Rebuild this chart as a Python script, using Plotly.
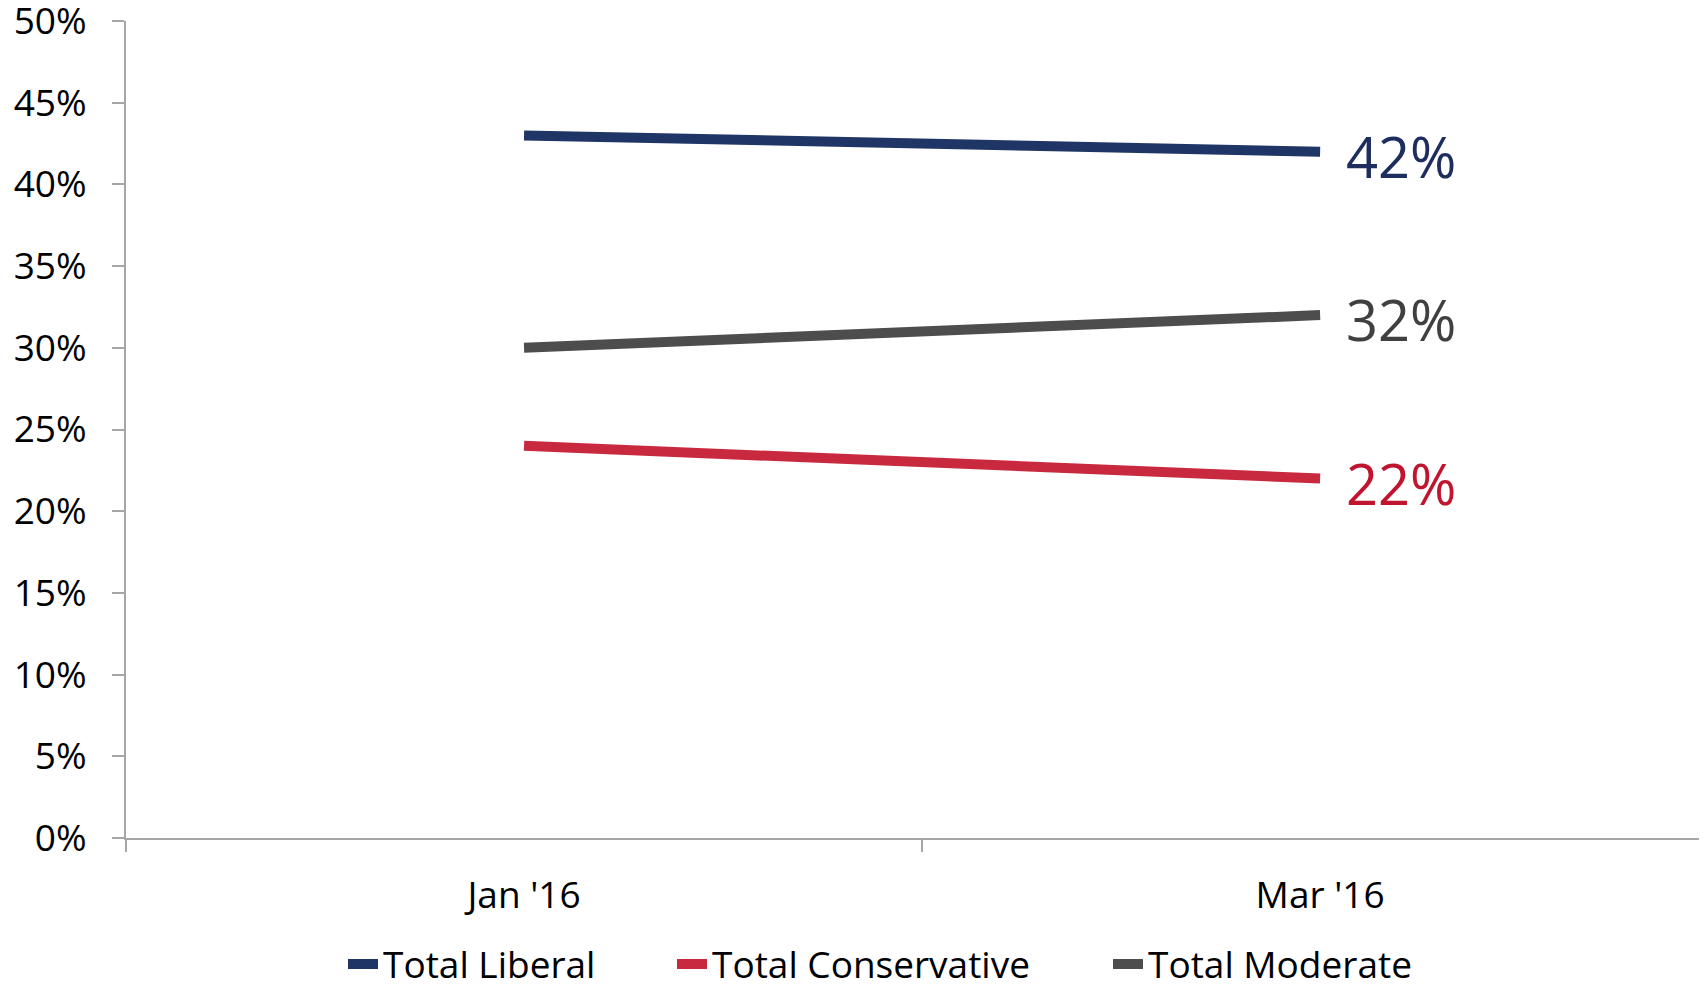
import plotly.graph_objects as go

categories = ["Jan '16", "Mar '16"]
liberal = [43, 42]
conservative = [24, 22]
moderate = [30, 32]
series_names = ["Total Liberal", "Total Conservative", "Total Moderate"]
line_colors = ["#1F3566", "#C8293F", "#4D4D4D"]
label_colors = ["#1C2D5E", "#C0142F", "#404040"]
y_ticks = [0, 5, 10, 15, 20, 25, 30, 35, 40, 45, 50]

FONT = "Open Sans"
AXIS_COLOR = "#A6A6A6"
W, H = 1699, 985
legend_ids = ["legend", "legend2", "legend3"]
legend_x = [335, 664, 1100]

fig = go.Figure()
for name, vals, lc, tc, lid in zip(series_names, [liberal, conservative, moderate],
                                   line_colors, label_colors, legend_ids):
    fig.add_trace(go.Scatter(
        x=categories, y=vals, mode="lines", name=name,
        line=dict(color=lc, width=10),
        hoverinfo="skip", legend=lid,
    ))
    fig.add_annotation(
        x=categories[-1], y=vals[-1], xref="x", yref="y",
        text=f"{vals[-1]}%", showarrow=False,
        xanchor="left", yanchor="middle", xshift=24, yshift=-4,
        font=dict(family=FONT, size=56, color=tc),
    )

legend_common = dict(
    orientation="h", xref="container", yref="container",
    xanchor="left", y=0.029, yanchor="middle",
    font=dict(family=FONT, size=37, color="#000000"),
    bgcolor="rgba(0,0,0,0)",
)

fig.update_layout(
    width=W, height=H,
    paper_bgcolor="white", plot_bgcolor="white",
    margin=dict(l=118, r=0, t=13, b=155, autoexpand=False),
    font=dict(family=FONT, color="#000000"),
    showlegend=True,
    legend=dict(x=legend_x[0] / W, **legend_common),
    legend2=dict(x=legend_x[1] / W, **legend_common),
    legend3=dict(x=legend_x[2] / W, **legend_common),
    xaxis=dict(
        type="category", categoryorder="array", categoryarray=categories,
        range=[-0.5, 1.486], tickson="boundaries",
        showline=True, linecolor=AXIS_COLOR, linewidth=2,
        ticks="outside", ticklen=12, tickwidth=2, tickcolor=AXIS_COLOR,
        showgrid=False, zeroline=False, automargin=False,
        tickfont=dict(family=FONT, size=37, color="#000000"),
        ticklabelstandoff=24,
    ),
    yaxis=dict(
        range=[0, 50], tickvals=y_ticks, ticktext=[f"{v}%" for v in y_ticks],
        showline=True, linecolor=AXIS_COLOR, linewidth=2,
        ticks="outside", ticklen=12, tickwidth=2, tickcolor=AXIS_COLOR,
        showgrid=False, zeroline=False, automargin=False,
        ticklabeloverflow="allow",
        tickfont=dict(family=FONT, size=37, color="#000000"),
        ticklabelstandoff=18,
    ),
)

fig.write_html("out.html")
